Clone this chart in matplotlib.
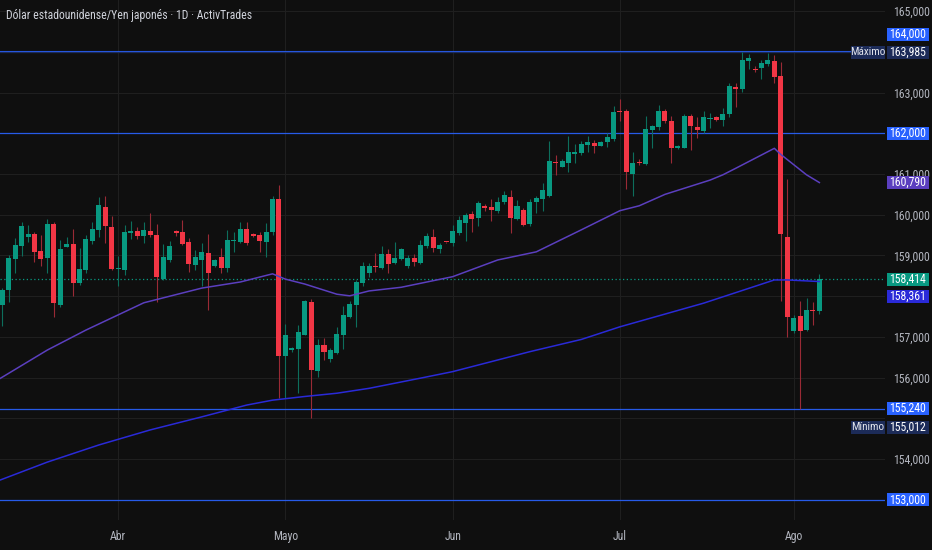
import matplotlib
matplotlib.use('Agg')
import matplotlib.pyplot as plt
from matplotlib import font_manager as fm
from matplotlib.patches import Rectangle
import numpy as np

# a narrow face looks closest; fall back to Roboto at a smaller size
avail = {f.name for f in fm.fontManager.ttflist}
narrow = [n for n in ['Liberation Sans Narrow', 'DejaVu Sans Condensed', 'Roboto Condensed',
                      'Open Sans Condensed', 'Noto Sans Condensed'] if n in avail]
if narrow:
    plt.rcParams['font.family'] = [narrow[0], 'DejaVu Sans']
    FS = 8.5
else:
    plt.rcParams['font.family'] = ['Roboto', 'DejaVu Sans']
    FS = 7.5

# daily candles (oldest first)
opens = [157.79, 158.15, 158.91, 159.24, 159.46, 159.53, 159.12, 158.93, 159.77, 157.79,
         159.20, 159.28, 158.32, 158.64, 159.36, 159.63, 160.20, 159.69, 158.68, 158.64,
         159.55, 159.59, 159.48, 159.60, 159.50, 158.42, 158.89, 159.60, 159.58, 159.34,
         158.77, 158.89, 159.07, 158.74, 158.97, 158.70, 159.36, 159.32, 159.64, 159.53,
         159.50, 159.34, 159.58, 160.39, 156.54, 156.68, 156.71, 157.05, 157.86, 156.17,
         156.80, 156.45, 156.60, 157.05, 157.50, 157.79, 158.33, 158.58, 158.74, 158.70,
         159.04, 158.81, 158.91, 158.73, 158.93, 158.82, 159.23, 159.46, 159.16, 159.33,
         159.31, 159.56, 159.79, 160.02, 159.91, 160.22, 160.20, 160.08, 160.32, 160.43,
         159.89, 160.12, 159.77, 160.31, 160.39, 160.46, 161.30, 161.18, 161.26, 161.50,
         161.51, 161.71, 161.77, 161.69, 161.79, 161.86, 162.55, 162.55, 161.00, 161.30,
         161.25, 162.08, 162.15, 162.55, 162.31, 161.65, 161.65, 162.42, 162.15, 162.06,
         162.34, 162.41, 162.33, 162.47, 163.14, 163.09, 163.78, 163.55, 163.61, 163.70,
         163.77, 163.40, 159.45, 157.15, 157.52, 157.17, 157.66, 157.65]
highs = [158.20, 159.01, 159.44, 159.81, 159.75, 159.58, 159.50, 159.89, 159.83, 159.38,
         159.45, 159.64, 159.19, 159.50, 159.83, 160.43, 160.46, 159.97, 158.99, 159.75,
         159.85, 159.69, 159.83, 160.04, 159.77, 159.28, 159.36, 159.62, 159.87, 159.42,
         159.14, 159.31, 159.53, 158.91, 159.18, 159.63, 159.58, 159.83, 159.83, 159.56,
         159.58, 159.79, 160.46, 160.73, 157.31, 156.76, 157.30, 157.91, 157.93, 156.94,
         156.97, 156.72, 157.25, 157.76, 157.89, 158.40, 158.85, 158.81, 159.07, 159.23,
         159.16, 159.34, 159.19, 159.01, 159.03, 159.38, 159.56, 159.64, 159.31, 159.34,
         159.75, 159.97, 160.05, 160.08, 160.34, 160.26, 160.38, 160.43, 160.58, 160.61,
         160.36, 160.16, 160.39, 160.47, 160.79, 161.81, 161.47, 161.37, 161.93, 161.74,
         161.82, 161.93, 161.83, 161.81, 162.00, 162.67, 162.84, 162.60, 161.53, 161.36,
         162.43, 162.20, 162.69, 162.60, 162.43, 161.72, 162.47, 162.47, 162.41, 162.55,
         162.50, 162.42, 162.61, 163.24, 163.23, 163.985, 163.95, 163.65, 163.80, 163.96,
         163.92, 163.75, 160.88, 157.54, 157.88, 157.95, 157.85, 158.54]
lows = [157.27, 157.87, 158.56, 158.99, 159.32, 158.85, 158.73, 158.56, 157.50, 157.74,
        159.20, 158.01, 158.28, 158.58, 159.27, 159.46, 159.31, 158.64, 158.26, 158.52,
        159.41, 159.41, 159.30, 159.46, 157.87, 158.40, 158.85, 159.49, 159.26, 158.60,
        158.64, 158.25, 157.66, 158.72, 158.56, 158.60, 159.09, 159.30, 159.26, 159.45,
        159.09, 158.96, 159.50, 155.50, 155.50, 156.64, 155.63, 157.04, 155.012, 156.01,
        156.44, 156.39, 156.58, 156.70, 157.46, 157.25, 158.25, 158.48, 158.60, 158.66,
        158.56, 158.79, 158.89, 158.69, 158.74, 158.79, 159.18, 159.09, 159.07, 159.31,
        159.24, 159.50, 159.36, 159.58, 159.72, 160.08, 159.85, 160.04, 160.26, 159.55,
        159.87, 159.72, 159.72, 160.05, 160.10, 160.44, 160.98, 161.16, 161.06, 161.26,
        161.47, 161.55, 161.52, 161.69, 161.67, 161.81, 162.30, 160.63, 160.46, 161.22,
        161.22, 161.65, 162.08, 162.24, 161.26, 161.62, 161.64, 161.59, 161.89, 162.00,
        162.12, 162.30, 162.18, 162.41, 162.65, 163.02, 163.58, 163.50, 163.32, 163.66,
        163.23, 157.89, 157.01, 157.11, 155.24, 157.15, 157.30, 157.56]
closes = [158.15, 158.93, 159.26, 159.72, 159.53, 159.09, 158.91, 159.77, 157.84, 159.15,
          159.28, 158.32, 158.67, 159.40, 159.64, 160.24, 159.72, 158.67, 158.70, 159.57,
          159.61, 159.49, 159.63, 159.50, 158.48, 158.96, 159.24, 159.56, 159.28, 158.79,
          158.96, 159.09, 158.58, 158.89, 158.70, 159.38, 159.38, 159.64, 159.30, 159.49,
          159.36, 159.57, 160.39, 156.54, 157.05, 156.73, 157.12, 157.88, 156.19, 156.80,
          156.62, 156.68, 157.07, 157.54, 157.81, 158.36, 158.74, 158.73, 158.72, 159.04,
          158.79, 158.93, 159.16, 158.93, 158.85, 159.26, 159.48, 159.19, 159.26, 159.32,
          159.60, 159.87, 159.99, 159.89, 160.28, 160.17, 160.12, 160.31, 160.48, 159.91,
          160.22, 159.75, 160.31, 160.42, 160.61, 161.32, 161.26, 161.32, 161.55, 161.53,
          161.74, 161.79, 161.69, 161.79, 161.92, 162.53, 162.53, 161.06, 161.28, 161.26,
          162.10, 162.18, 162.55, 162.31, 161.65, 161.69, 162.43, 162.18, 162.08, 162.39,
          162.37, 162.33, 162.47, 163.16, 163.09, 163.80, 163.84, 163.54, 163.72, 163.80,
          163.39, 159.53, 157.50, 157.47, 157.15, 157.66, 157.65, 158.414]

month_idx = [18, 44, 70, 96, 123]
month_names = ['Abr', 'Mayo', 'Jun', 'Jul', 'Ago']

# moving averages, read at a few bars
ma_fast_idx = [-1, 7, 13, 22, 31, 37, 42, 44, 47, 52, 54, 57, 62, 70, 77, 83, 90, 96, 99,
               103, 110, 112, 114, 120, 121, 125, 127]
ma_fast = [155.92, 156.68, 157.17, 157.84, 158.20, 158.35, 158.55, 158.42, 158.30, 158.05,
           158.01, 158.13, 158.22, 158.48, 158.89, 159.09, 159.63, 160.10, 160.22, 160.50,
           160.85, 160.98, 161.14, 161.63, 161.48, 160.98, 160.79]
ma_slow_idx = [-1, 7, 15, 23, 31, 38, 42, 47, 52, 57, 65, 70, 82, 90, 96, 109, 120, 122, 127]
ma_slow = [153.45, 153.93, 154.35, 154.72, 155.04, 155.33, 155.45, 155.54, 155.62, 155.74,
           155.99, 156.15, 156.64, 156.94, 157.25, 157.83, 158.40, 158.40, 158.361]

levels = [164.0, 162.0, 155.24, 153.0]
high_mark = 163.985
low_mark = 155.012
last_price = 158.414
price_ticks = list(range(153, 166))
hidden_ticks = [153, 155, 158, 162, 164]   # covered by price tags on the scale

BG = '#0f0f0f'
GRID = '#1f1f1f'
TXT = '#b2b5be'
UP, DOWN = '#089981', '#f23645'
UP_WICK, DOWN_WICK = '#0d6e5c', '#9a2a35'
LEVEL = '#2962ff'
NAVY = '#1c2b58'
FAST = '#5b3fbf'
SLOW = '#2a2ad8'

fig = plt.figure(figsize=(9.32, 5.5), dpi=100, facecolor=BG)
ax = fig.add_axes([0, 30 / 550, 885 / 932, 520 / 550], facecolor=BG)
ymin, ymax = 152.509, 165.27
ax.set_ylim(ymin, ymax)
ax.set_xlim(-0.36, 137.2)
ppu = 520 / (ymax - ymin)   # pixels per price unit

o = np.array(opens); h = np.array(highs); l = np.array(lows); c = np.array(closes)
x = np.arange(len(o))
up = c >= o
body_lo = np.minimum(o, c)
body_h = np.maximum(np.abs(c - o), 1.0 / ppu)

ax.vlines(x, l, h, colors=np.where(up, UP_WICK, DOWN_WICK), linewidth=0.8, zorder=3)
ax.bar(x, body_h, bottom=body_lo, width=0.78, color=np.where(up, UP, DOWN),
       linewidth=0, zorder=4)

ax.plot(ma_fast_idx, ma_fast, color=FAST, lw=1.1, zorder=5)
ax.plot(ma_slow_idx, ma_slow, color=SLOW, lw=1.1, zorder=5)

for lv in levels:
    ax.axhline(lv, color=LEVEL, lw=1.5 if lv == levels[0] else 0.9, alpha=0.9, zorder=2)
ax.axhline(high_mark, color=NAVY, lw=0.8, zorder=2)
ax.axhline(last_price, color=UP, lw=0.9, ls=(0, (1, 2)), zorder=2)

ax.set_axisbelow(True)
ax.grid(True, color=GRID, lw=0.8)
for s in ax.spines.values():
    s.set_visible(False)
ax.yaxis.tick_right()
ax.set_yticks(price_ticks, ['' if v in hidden_ticks else f"{v:.3f}".replace('.', ',')
                            for v in price_ticks])
ax.set_xticks(month_idx, month_names)
ax.tick_params(axis='y', length=0, pad=5.5, labelcolor=TXT, labelsize=FS)
ax.tick_params(axis='x', length=0, pad=7, labelcolor=TXT, labelsize=FS)

# price tags on the right scale: value, colour, shift in px, side tag
tags = [
    (164.000, LEVEL, -17, None),
    (high_mark, NAVY, 0, 'Máximo'),
    (162.000, LEVEL, 0, None),
    (ma_fast[-1], FAST, 0, None),
    (last_price, UP, 0, None),
    (ma_slow[-1], SLOW, 14.5, None),
    (155.240, LEVEL, 0, None),
    (low_mark, NAVY, 9, 'Mínimo'),
    (153.000, LEVEL, 0, None),
]
tr = ax.get_yaxis_transform()
hh = 6.5 / ppu
for val, col, shift, side in tags:
    yc = val - shift / ppu
    ax.add_patch(Rectangle((887 / 885, yc - hh), 42 / 885, 2 * hh, transform=tr,
                           facecolor=col, edgecolor='none', clip_on=False, zorder=10))
    ax.text(908 / 885, yc, f"{val:.3f}".replace('.', ','), transform=tr, ha='center',
            va='center', color='white', fontsize=FS, zorder=11, clip_on=False)
    if side:
        ax.add_patch(Rectangle((851 / 885, yc - hh), 34 / 885, 2 * hh, transform=tr,
                               facecolor=col, edgecolor='none', clip_on=False, zorder=10))
        ax.text(868 / 885, yc, side, transform=tr, ha='center', va='center',
                color='#e0e3eb', fontsize=FS - 0.5, zorder=11, clip_on=False)

fig.text(6 / 932, 1 - 16 / 550, 'Dólar estadounidense/Yen japonés · 1D · ActivTrades',
         color='#d1d4dc', fontsize=FS, va='center', ha='left')

fig.savefig('out.png', dpi=100, facecolor=BG)
